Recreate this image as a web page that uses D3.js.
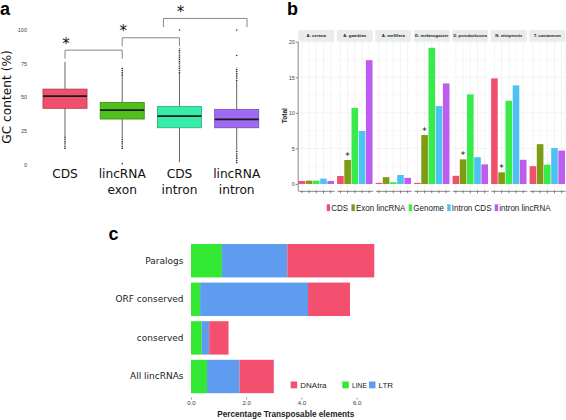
<!DOCTYPE html>
<html><head><meta charset="utf-8">
<script src="https://cdn.jsdelivr.net/npm/d3@7"></script>
<style>body{margin:0;background:#fff} svg{display:block}</style>
</head><body><svg id="chart" width="566" height="420"></svg>
<script>
// ---------- Panel a data ----------
const gcCategories = ["CDS", "lincRNA exon", "CDS intron", "lincRNA intron"];
const gcLabelLines = [["CDS"], ["lincRNA", "exon"], ["CDS", "intron"], ["lincRNA", "intron"]];
const gcQ1 = [41.7, 33.7, 27.2, 27.2];
const gcMedian = [50.8, 40.4, 35.9, 33.5];
const gcQ3 = [56.0, 46.1, 43.1, 40.9];
const gcWhiskerLow = [21, 20, 1.5, 10.6];
const gcWhiskerHigh = [76.3, 66, 67.7, 62];
const gcOutlierRuns = [[[11.4, 21]], [[11.4, 20], [66, 72.6]], [[67.7, 86.3]], [[0.7, 10.6], [62, 72]]];
const gcOutlierPoints = [[], [0.5], [100], [81, 100]];
const gcTicks = [0, 25, 50, 75, 100];
const gcBracketFrom = [0, 1, 1.72];
const gcBracketTo = [1, 2, 3.18];
const gcBracketLevel = [85, 94.2, 108.6];

// ---------- Panel b data ----------
const speciesNames = ["A. cerana", "A. gambiae", "A. mellifera", "D. melanogaster", "D. pseudoobscura", "N. vitripennis", "T. castaneum"];
const seriesNames = ["CDS", "Exon lincRNA", "Genome", "Intron CDS", "intron lincRNA"];
const cdsTotals = [0.42, 1.12, 0.16, 0.16, 1.15, 14.84, 2.5];
const exonLincTotals = [0.47, 3.37, 0.96, 6.88, 3.46, 1.64, 5.6];
const genomeTotals = [0.47, 10.7, 0.25, 19.15, 12.6, 11.7, 2.72];
const intronCdsTotals = [0.75, 7.45, 1.26, 10.95, 3.77, 13.86, 5.05];
const intronLincTotals = [0.42, 17.4, 0.86, 14.14, 2.76, 3.4, 4.7];
const exonSignificant = [false, true, false, true, true, true, false];
const totalTicks = [0, 5, 10, 15, 20];

// ---------- Panel c data ----------
const teCategories = ["Paralogs", "ORF conserved", "conserved", "All lincRNAs"];
const teLine = [1.12, 0.33, 0.39, 0.58];
const teLtr = [2.37, 3.91, 0.27, 1.18];
const teDna = [3.15, 1.52, 0.70, 1.24];
const teTypes = ["LINE", "LTR", "DNAtra"];
const teLegendOrder = ["DNAtra", "LINE", "LTR"];
const teTicks = [0, 2, 4, 6];

const svg = d3.select("#chart");
const SANS = "'Liberation Sans', Arial, sans-serif";
const DEJA = "'DejaVu Sans', sans-serif";

// ================= Panel a =================
const gcColors = ["#F0506E", "#4FBF1C", "#35EDA8", "#9C6AF3"];
const ya = d3.scaleLinear().domain([0, 100]).range([164.3, 30]);
const xa = d3.scalePoint().domain(gcCategories).range([65, 236.7]);
const xaIdx = d3.scaleLinear().domain([0, 3]).range([65, 236.7]);
const boxW = xa.step() * 0.77;
const gA = svg.append("g");

const axA = gA.append("g").attr("transform", "translate(28,0)")
  .call(d3.axisLeft(ya).tickValues(gcTicks).tickSize(0).tickPadding(1));
axA.select(".domain").remove();
axA.selectAll("text").attr("font-family", SANS).attr("font-size", 5.5).attr("fill", "#444");

gA.append("text").attr("transform", "translate(11,97) rotate(-90)")
  .attr("text-anchor", "middle").attr("font-family", DEJA).attr("font-size", 12.2)
  .attr("fill", "#111").text("GC content (%)");

gcCategories.forEach((c, i) => {
  const cx = xa(c);
  const g = gA.append("g");
  g.append("line").attr("x1", cx).attr("x2", cx).attr("y1", ya(gcWhiskerLow[i])).attr("y2", ya(gcQ1[i]))
    .attr("stroke", "#555").attr("stroke-width", 0.9);
  g.append("line").attr("x1", cx).attr("x2", cx).attr("y1", ya(gcQ3[i])).attr("y2", ya(gcWhiskerHigh[i]))
    .attr("stroke", "#555").attr("stroke-width", 0.9);
  gcOutlierRuns[i].forEach(r => {
    g.append("line").attr("x1", cx).attr("x2", cx).attr("y1", ya(r[0])).attr("y2", ya(r[1]))
      .attr("stroke", "#333").attr("stroke-width", 1.5).attr("stroke-dasharray", "1.4,0.8");
  });
  gcOutlierPoints[i].forEach(v => {
    g.append("circle").attr("cx", cx).attr("cy", ya(v)).attr("r", 0.8).attr("fill", "#333");
  });
  g.append("rect").attr("x", cx - boxW / 2).attr("y", ya(gcQ3[i]))
    .attr("width", boxW).attr("height", ya(gcQ1[i]) - ya(gcQ3[i]))
    .attr("fill", gcColors[i]).attr("stroke", d3.color(gcColors[i]).darker(0.9)).attr("stroke-width", 0.8);
  g.append("line").attr("x1", cx - boxW / 2).attr("x2", cx + boxW / 2)
    .attr("y1", ya(gcMedian[i])).attr("y2", ya(gcMedian[i]))
    .attr("stroke", "#1a1a1a").attr("stroke-width", 1.8);
  gcLabelLines[i].forEach((t, k) => {
    gA.append("text").attr("x", cx).attr("y", 178 + k * 15.6).attr("text-anchor", "middle")
      .attr("font-family", DEJA).attr("font-size", 12.2).attr("fill", "#111").text(t);
  });
});

gcBracketFrom.forEach((f, i) => {
  const x1 = xaIdx(f), x2 = xaIdx(gcBracketTo[i]), yl = ya(gcBracketLevel[i]), yd = ya(gcBracketLevel[i] - 6.4);
  gA.append("path").attr("d", `M${x1},${yd}V${yl}H${x2}V${yd}`)
    .attr("fill", "none").attr("stroke", "#888").attr("stroke-width", 1);
  gA.append("text").attr("x", xaIdx(Math.round(f)) + 1).attr("y", yl - 1.5).attr("text-anchor", "middle")
    .attr("font-family", DEJA).attr("font-size", 15).attr("fill", "#111").text("*");
});

// ================= Panel b =================
const seriesColors = ["#F0506E", "#7F9B14", "#38EB4A", "#4CC2F2", "#BE5CF0"];
const seriesValues = [cdsTotals, exonLincTotals, genomeTotals, intronCdsTotals, intronLincTotals];
const xb = d3.scaleBand().domain(speciesNames).range([298.3, 565.3]).paddingInner(0.065);
const xInner = d3.scaleBand().domain(seriesNames).range([0, xb.bandwidth()]).paddingInner(0.08).paddingOuter(0.04);
const yb = d3.scaleLinear().domain([-0.96, 20.06]).range([190.8, 41.3]);
const gB = svg.append("g");

speciesNames.forEach((sp, si) => {
  const g = gB.append("g").attr("transform", `translate(${xb(sp)},0)`);
  const w = xb.bandwidth();
  // grid
  d3.range(0, 20.1, 2.5).forEach(v => {
    g.append("line").attr("x1", 0).attr("x2", w).attr("y1", yb(v)).attr("y2", yb(v))
      .attr("stroke", v % 5 === 0 ? "#e6e6e6" : "#f3f3f3").attr("stroke-width", 0.5);
  });
  seriesNames.forEach(s => {
    const cx = xInner(s) + xInner.bandwidth() / 2;
    g.append("line").attr("x1", cx).attr("x2", cx).attr("y1", yb.range()[1]).attr("y2", yb.range()[0])
      .attr("stroke", "#e8e8e8").attr("stroke-width", 0.5);
  });
  // strip
  g.append("rect").attr("x", 0).attr("y", 30).attr("width", w).attr("height", 11.3).attr("fill", "#E9ECEB");
  const st = g.append("text").attr("x", w / 2).attr("y", 37.4).attr("text-anchor", "middle")
    .attr("font-family", SANS).attr("font-size", 6).attr("font-weight", "bold").attr("fill", "#222").text(sp);
  const L = st.node().getComputedTextLength();
  const fs = Math.min(6 * 0.72, 6 * (w - 2.5) / L);
  st.attr("font-size", fs);
  // bars
  seriesNames.forEach((s, k) => {
    const v = seriesValues[k][si];
    g.append("rect").attr("x", xInner(s)).attr("y", yb(v)).attr("width", xInner.bandwidth())
      .attr("height", yb(0) - yb(v)).attr("fill", seriesColors[k]);
  });
  if (exonSignificant[si]) {
    const s = seriesNames[1];
    g.append("text").attr("x", xInner(s) + xInner.bandwidth() / 2).attr("y", yb(exonLincTotals[si]) - 1.2)
      .attr("text-anchor", "middle").attr("font-family", DEJA).attr("font-size", 9).attr("fill", "#111").text("*");
  }
  // bottom axis
  const ax = g.append("g").attr("transform", `translate(0,${yb.range()[0]})`)
    .call(d3.axisBottom(xInner).tickSize(2.5).tickSizeOuter(0).tickFormat(""));
  ax.select(".domain").attr("stroke", "#333").attr("stroke-width", 0.6);
  ax.selectAll(".tick line").attr("stroke", "#333").attr("stroke-width", 0.6);
});

const axB = gB.append("g").attr("transform", "translate(297.7,0)")
  .call(d3.axisLeft(yb).tickValues(totalTicks).tickSize(2).tickSizeOuter(0).tickPadding(0.8));
axB.select(".domain").attr("stroke", "#333").attr("stroke-width", 0.6);
axB.selectAll(".tick line").attr("stroke", "#333").attr("stroke-width", 0.6);
axB.selectAll("text").attr("font-family", SANS).attr("font-size", 5.5).attr("fill", "#444");

gB.append("text").attr("transform", "translate(287.3,115.7) rotate(-90)").attr("text-anchor", "middle")
  .attr("font-family", SANS).attr("font-size", 6.5).attr("font-weight", "bold").attr("fill", "#222").text("Total");

// legend b
let lx = 326.7;
seriesNames.forEach((s, k) => {
  gB.append("rect").attr("x", lx).attr("y", 204.3).attr("width", 3.4).attr("height", 6.8).attr("fill", seriesColors[k]);
  const t = gB.append("text").attr("x", lx + 4.6).attr("y", 211).attr("font-family", SANS)
    .attr("font-size", 9.4).attr("fill", "#222").text(s);
  const L = t.node().getComputedTextLength() * 0.855;
  t.attr("textLength", L).attr("lengthAdjust", "spacingAndGlyphs");
  lx += 4.6 + L + 3.2;
});

// ================= Panel c =================
const teColors = { LINE: "#33E833", LTR: "#5E9CF0", DNAtra: "#F2506E" };
const teRows = teCategories.map((c, i) => ({ cat: c, LINE: teLine[i], LTR: teLtr[i], DNAtra: teDna[i] }));
const stack = d3.stack().keys(teTypes)(teRows);
const xc = d3.scaleLinear().domain([0, 7]).range([191, 384.2]);
const yc = d3.scaleBand().domain(teCategories).range([241.4, 395.8]).paddingInner(0.135).paddingOuter(0.0675);
const gC = svg.append("g");

stack.forEach(layer => {
  gC.append("g").attr("fill", teColors[layer.key]).selectAll("rect").data(layer).join("rect")
    .attr("x", d => xc(d[0])).attr("width", d => xc(d[1]) - xc(d[0]))
    .attr("y", d => yc(d.data.cat)).attr("height", yc.bandwidth());
});

const axCx = gC.append("g").attr("transform", "translate(0,397.5)")
  .call(d3.axisBottom(xc).tickValues(teTicks).tickSize(2).tickPadding(1.5));
axCx.select(".domain").remove();
axCx.selectAll(".tick line").attr("stroke", "#555").attr("stroke-width", 0.6);
axCx.selectAll("text").attr("font-family", SANS).attr("font-size", 6).attr("fill", "#333");

const axCy = gC.append("g").attr("transform", "translate(191,0)")
  .call(d3.axisLeft(yc).tickSize(0).tickPadding(7.5));
axCy.select(".domain").remove();
axCy.selectAll("text").attr("font-family", DEJA).attr("font-size", 9).attr("fill", "#222");

gC.append("text").attr("x", 285.8).attr("y", 416.6).attr("text-anchor", "middle")
  .attr("font-family", SANS).attr("font-size", 8.2).attr("font-weight", "bold").attr("fill", "#222")
  .text("Percentage Transposable elements");

const legendCx = [290.7, 342.3, 369];
teLegendOrder.forEach((k, i) => {
  gC.append("rect").attr("x", legendCx[i]).attr("y", 381.5).attr("width", 6.5).attr("height", 6.8).attr("fill", teColors[k]);
  const t = gC.append("text").attr("x", legendCx[i] + 9.6).attr("y", 387.6).attr("font-family", SANS)
    .attr("font-size", 8).attr("fill", "#222").text(k);
  const maxW = (i < legendCx.length - 1 ? legendCx[i + 1] : 400) - legendCx[i] - 11.5;
  const L = t.node().getComputedTextLength();
  if (L > maxW) t.attr("font-size", 8 * maxW / L);
});

// ================= Panel letters =================
[["a", 0, 15], ["b", 287, 15], ["c", 108.5, 240]].forEach(([t, x, y]) => {
  svg.append("text").attr("x", x).attr("y", y).attr("font-family", SANS).attr("font-weight", "bold")
    .attr("font-size", 18).attr("fill", "#000").text(t);
});
</script></body></html>
